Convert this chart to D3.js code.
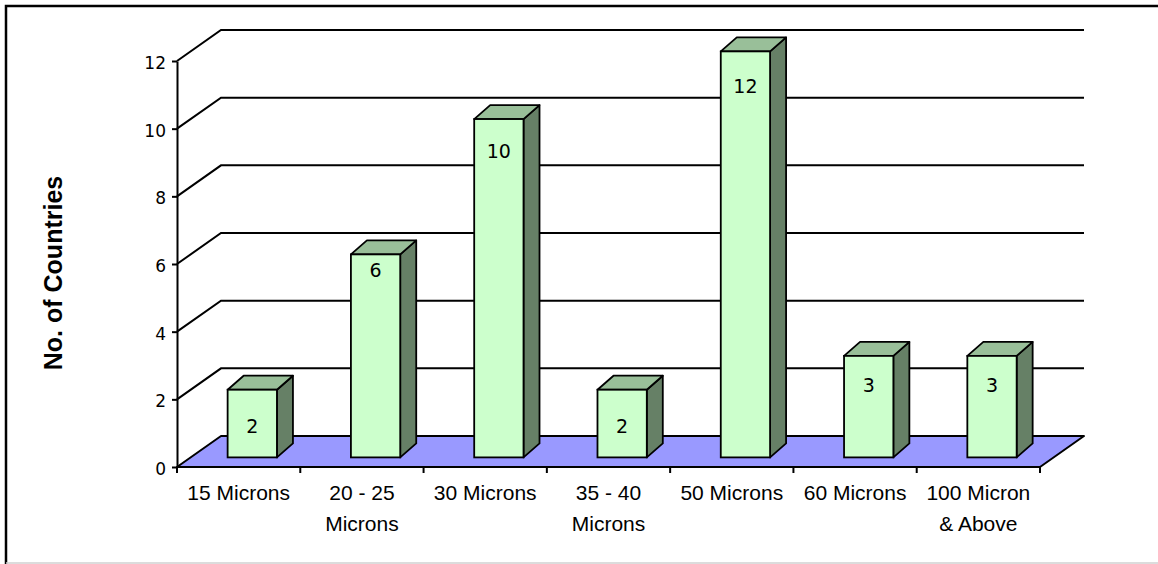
<!DOCTYPE html>
<html>
<head>
<meta charset="utf-8">
<script src="https://cdn.jsdelivr.net/npm/d3@7"></script>
<style>
  body { margin: 0; background: #fff; }
  svg { display: block; }
</style>
</head>
<body>
<svg id="chart" width="1158" height="564"></svg>
<script>
// data
const categories = [
  ["15 Microns"],
  ["20 - 25", "Microns"],
  ["30 Microns"],
  ["35 - 40", "Microns"],
  ["50 Microns"],
  ["60 Microns"],
  ["100 Micron", "& Above"]
]
const values = [2, 6, 10, 2, 12, 3, 3]
const yTicks = [0, 2, 4, 6, 8, 10, 12]

// how far each value label sits below its bar top (the source places them unevenly)
const labelDrop = [42, 22, 38, 42, 41, 35, 35]

const svg = d3.select('#chart')

// frame
svg.append('path')
  .attr('d', 'M6,564 L6,6 L1158,6')
  .attr('fill', 'none')
  .attr('stroke', '#000')
  .attr('stroke-width', 2.5)
svg.append('line')
  .attr('x1', 6).attr('x2', 1158).attr('y1', 563).attr('y2', 563)
  .attr('stroke', '#d0d0d0').attr('stroke-width', 1.5)

const x = d3.scaleBand()
  .domain(d3.range(categories.length))
  .range([177, 1040])
  .padding(0)

const y = d3.scaleLinear()
  .domain([0, 12])
  .range([467, 61])

// depth of the floor / back wall, and where bars sit in it
const depth = [44, -31]
const barShift = [depth[0] * 0.31, depth[1] * 0.31]
const barDepth = [16, -14]
const barW = x.bandwidth() * 0.4

const x0 = x.range()[0], x1 = x.range()[1]

// back wall grid lines
const grid = svg.append('g')
yTicks.filter(t => t > 0).forEach(t => {
  grid.append('path')
    .attr('d', `M${x0},${y(t)} L${x0 + depth[0]},${y(t) + depth[1]} L${x1 + depth[0]},${y(t) + depth[1]}`)
    .attr('fill', 'none')
    .attr('stroke', '#000')
    .attr('stroke-width', 2)
})

// floor
svg.append('path')
  .attr('d', `M${x0},${y(0)} L${x1},${y(0)} L${x1 + depth[0]},${y(0) + depth[1]} L${x0 + depth[0]},${y(0) + depth[1]} Z`)
  .attr('fill', '#9999ff')
  .attr('stroke', '#000')
  .attr('stroke-width', 2)
  .attr('stroke-linejoin', 'round')

// y axis
const yAxis = svg.append('g')
  .attr('transform', `translate(${x0},0)`)
  .call(d3.axisLeft(y).tickValues(yTicks).tickSize(5).tickSizeOuter(0).tickPadding(6))
yAxis.select('.domain').attr('stroke', '#000').attr('stroke-width', 2)
yAxis.selectAll('.tick line').attr('stroke', '#000').attr('stroke-width', 2)
yAxis.selectAll('.tick text')
  .attr('font-family', 'DejaVu Sans, sans-serif')
  .attr('font-size', 17)
  .attr('fill', '#000')
  .attr('dy', '0.45em')

// x ticks at category borders
const xTickPos = d3.range(categories.length + 1).map(i => i < categories.length ? x(i) : x1)
svg.append('g').selectAll('line')
  .data(xTickPos)
  .enter()
  .append('line')
  .attr('x1', d => d).attr('x2', d => d)
  .attr('y1', y(0)).attr('y2', y(0) + 6)
  .attr('stroke', '#000')
  .attr('stroke-width', 2)

// bars
const bars = svg.append('g').selectAll('g')
  .data(values)
  .enter()
  .append('g')

const bx = (d, i) => x(i) + x.bandwidth() / 2 + barShift[0] - barW / 2
const by0 = y(0) + barShift[1]
const byTop = d => y(d) + barShift[1]

bars.append('path') // side
  .attr('d', (d, i) => {
    const r = bx(d, i) + barW
    return `M${r},${by0} L${r + barDepth[0]},${by0 + barDepth[1]} L${r + barDepth[0]},${byTop(d) + barDepth[1]} L${r},${byTop(d)} Z`
  })
  .attr('fill', '#668066')
  .attr('stroke', '#000')
  .attr('stroke-width', 1.8)
  .attr('stroke-linejoin', 'round')

bars.append('path') // top
  .attr('d', (d, i) => {
    const l = bx(d, i), t = byTop(d)
    return `M${l},${t} L${l + barDepth[0]},${t + barDepth[1]} L${l + barW + barDepth[0]},${t + barDepth[1]} L${l + barW},${t} Z`
  })
  .attr('fill', '#99bf99')
  .attr('stroke', '#000')
  .attr('stroke-width', 1.8)
  .attr('stroke-linejoin', 'round')

bars.append('rect') // front
  .attr('x', (d, i) => bx(d, i))
  .attr('y', d => byTop(d))
  .attr('width', barW)
  .attr('height', d => by0 - byTop(d))
  .attr('fill', '#ccffcc')
  .attr('stroke', '#000')
  .attr('stroke-width', 1.8)

bars.append('text')
  .attr('x', (d, i) => bx(d, i) + barW / 2)
  .attr('y', (d, i) => byTop(d) + labelDrop[i] + 1)
  .attr('text-anchor', 'middle')
  .attr('font-family', 'DejaVu Sans, sans-serif')
  .attr('font-size', 19)
  .attr('fill', '#000')
  .text(d => d)

// category labels
const labels = svg.append('g').selectAll('text')
  .data(categories)
  .enter()
  .append('text')
  .attr('x', (d, i) => x(i) + x.bandwidth() / 2)
  .attr('y', 500)
  .attr('text-anchor', 'middle')
  .attr('font-family', 'Liberation Sans, Arial, sans-serif')
  .attr('font-size', 21)
  .attr('fill', '#000')
labels.selectAll('tspan')
  .data(d => d)
  .enter()
  .append('tspan')
  .attr('x', function () { return d3.select(this.parentNode).attr('x') })
  .attr('dy', (d, j) => j === 0 ? 0 : 31)
  .text(d => d)

// y title
svg.append('text')
  .attr('transform', 'translate(62,273) rotate(-90)')
  .attr('text-anchor', 'middle')
  .attr('font-family', 'Liberation Sans, Arial, sans-serif')
  .attr('font-weight', 'bold')
  .attr('font-size', 25)
  .attr('fill', '#000')
  .text('No. of Countries')
</script>
</body>
</html>
